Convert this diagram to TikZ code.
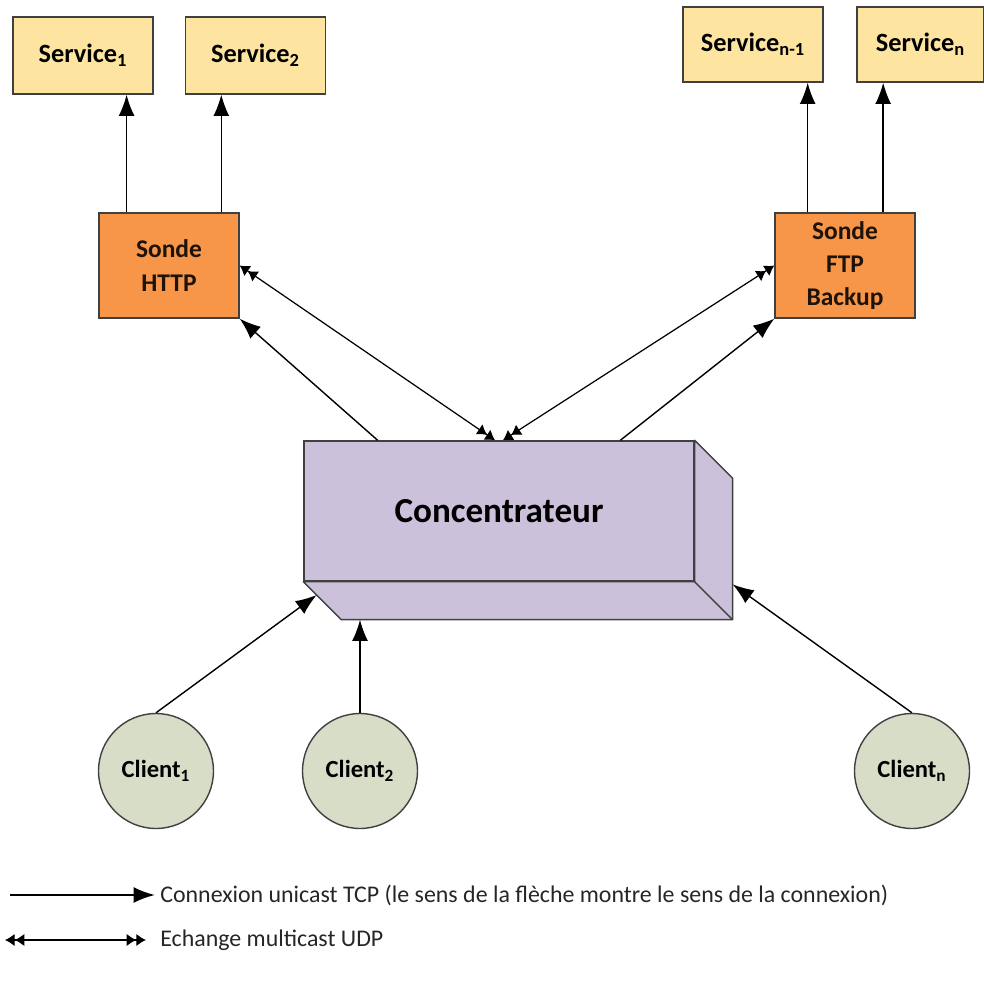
\documentclass[tikz,border=0pt]{standalone}
\usepackage{fontspec}
\setmainfont{Carlito}
\usetikzlibrary{arrows.meta,calc}
\definecolor{srvfill}{RGB}{253,228,160}
\definecolor{sndfill}{RGB}{247,150,72}
\definecolor{concfill}{RGB}{204,193,218}
\definecolor{clifill}{RGB}{216,221,200}

\begin{document}
\begin{tikzpicture}[x=0.02cm,y=-0.02cm,
  box/.style={draw=black!75,line width=0.8pt},
  service/.style={box,fill=srvfill,minimum width=2.8cm,minimum height=1.54cm,font=\bfseries\fontsize{15}{18}\selectfont},
  sonde/.style={box,fill=sndfill,minimum width=2.8cm,minimum height=2.1cm,align=center,text=black!85!brown,font=\bfseries\fontsize{14.5}{19}\selectfont},
  client/.style={box,circle,fill=clifill,minimum size=2.3cm,font=\bfseries\fontsize{14}{17}\selectfont},
  legend/.style={anchor=west,inner sep=0pt,text=black!85,font=\fontsize{13.6}{16}\selectfont},
  tcp/.style={-{Latex[length=12pt,width=9pt]},line width=0.8pt},
  udp/.style={{Latex[length=5.5pt,width=7pt]Latex[length=5.5pt,width=7pt]}-{Latex[length=5.5pt,width=7pt]Latex[length=5.5pt,width=7pt]},line width=0.7pt}]
\useasboundingbox (0,0) rectangle (984,983);
\node[service] (s1) at (83,55.5) {Service\textsubscript{1}};
\node[service] (s2) at (255.5,55.5) {Service\textsubscript{2}};
\node[service,minimum height=1.5cm] (sn1) at (753,44.5) {Service\textsubscript{n-1}};
\node[service,minimum width=2.54cm,minimum height=1.5cm] (sn) at (920.5,44.5) {Service\textsubscript{n}};
\node[sonde] (http) at (169,265.5) {Sonde\\HTTP};
\node[sonde] (ftp) at (845,265.5) {Sonde\\FTP\\Backup};
\node[box,fill=concfill,minimum width=7.8cm,minimum height=2.8cm,font=\bfseries\fontsize{20}{24}\selectfont] (conc) at (499,511) {Concentrateur};
\coordinate (bsw) at ([shift={(38,38)}]conc.south west);
\coordinate (bse) at ([shift={(38,38)}]conc.south east);
\coordinate (bne) at ([shift={(38,38)}]conc.north east);
\filldraw[box,fill=concfill,line join=round] (conc.south west) -- (bsw) -- (bse) -- (bne) -- (conc.north east) -- (conc.south east) -- cycle;
\draw[box] (conc.south east) -- (bse);
\node[client] (c1) at (156,771) {Client\textsubscript{1}};
\node[client] (c2) at (360,771) {Client\textsubscript{2}};
\node[client] (cn) at (912,771) {Client\textsubscript{n}};
\coordinate (h1) at ($(http.north west)!0.2!(http.north east)$);
\coordinate (h2) at ($(http.north west)!0.87!(http.north east)$);
\coordinate (f1) at ($(ftp.north west)!0.236!(ftp.north east)$);
\coordinate (f2) at ($(ftp.north west)!0.77!(ftp.north east)$);
\draw[tcp] (h1) -- (h1 |- s1.south);
\draw[tcp] (h2) -- (h2 |- s2.south);
\draw[tcp] (f1) -- (f1 |- sn1.south);
\draw[tcp] (f2) -- (f2 |- sn.south);
\draw[tcp] ($(conc.north west)!0.19!(conc.north east)$) -- (http.south east);
\draw[tcp] ($(conc.north west)!0.81!(conc.north east)$) -- (ftp.south west);
\draw[udp] (http.east) -- ($(conc.north west)!0.49!(conc.north east)$);
\draw[udp] (ftp.west) -- ($(conc.north west)!0.51!(conc.north east)$);
\draw[tcp] (c1.north) -- ($(conc.south west)!0.35!(bsw)$);
\draw[tcp] (c2.north) -- (c2.north |- bsw);
\draw[tcp] (cn.north) -- ($(bne)!0.75!(bse)$);
\node[legend] (ltcp) at (160,895) {Connexion unicast TCP (le sens de la flèche montre le sens de la connexion)};
\node[legend] (ludp) at (160,940) {Echange multicast UDP};
\draw[tcp] (10,895) -- ([xshift=-3pt]ltcp.west);
\draw[udp] (5,940) -- ([xshift=-8pt]ludp.west);
\end{tikzpicture}
\end{document}
